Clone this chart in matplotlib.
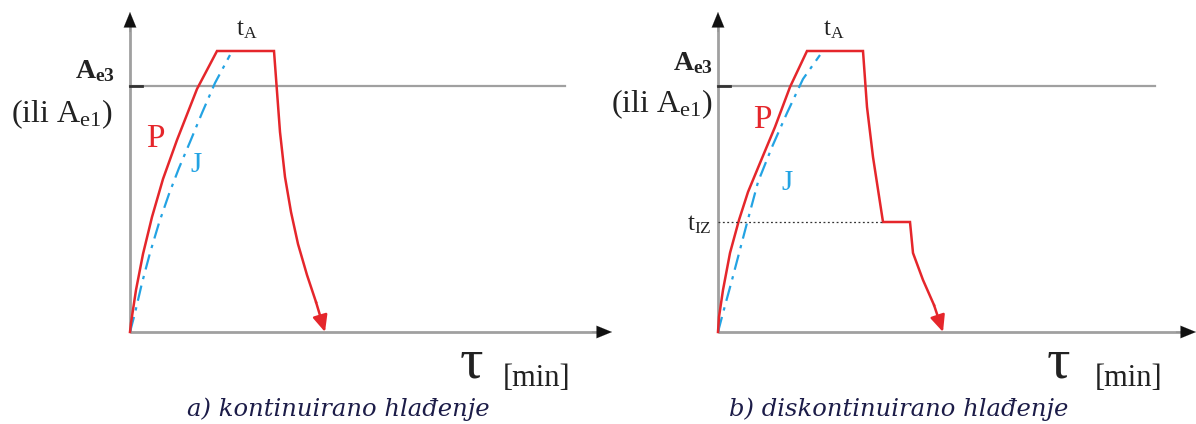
import numpy as np
import matplotlib.pyplot as plt

plt.rcParams['font.family'] = ['Liberation Serif', 'DejaVu Serif']
plt.rcParams['mathtext.fontset'] = 'custom'
plt.rcParams['mathtext.rm'] = 'Liberation Serif'
plt.rcParams['mathtext.bf'] = 'Liberation Serif:bold'
plt.rcParams['mathtext.it'] = 'Liberation Serif:italic'

# ---- DATA (schematic units: x = time, y = temperature, origin at axis corner) ----
# panel a) continuous cooling
pa_heat_x = [0, 1, 6, 13, 22, 33, 47, 67, 87]
pa_heat_y = [0, 9, 42, 78, 115, 153, 192, 243, 281]
pa_hold_x = [87, 144]
pa_hold_y = [281, 281]
pa_cool_x = [144, 150, 155, 161, 168, 177, 186, 195]
pa_cool_y = [281, 200, 155, 120, 88, 57, 30, 0]
ja_x = [0, 5, 12, 20, 29, 39, 49, 60, 72, 85, 100]
ja_y = [0, 19, 49, 79, 109, 138, 164, 190, 219, 249, 277]

# panel b) discontinuous cooling
pb_heat_x = [0, 1, 5, 12, 21, 30, 42, 57, 72, 89]
pb_heat_y = [0, 15, 42, 79, 112, 140, 169, 205, 245, 281]
pb_hold_x = [89, 145]
pb_hold_y = [281, 281]
pb_cool_x = [145, 149, 155, 165, 192, 195, 205, 216, 225]
pb_cool_y = [281, 225, 175, 110, 110, 79, 52, 27, 0]
jb_x = [0, 5, 14, 29, 40, 54, 69, 85, 102]
jb_y = [0, 19, 52, 109, 150, 185, 219, 253, 277]

ac_level = 246      # A_c3 line
tiz_level = 110     # t_IZ dotted line

RED = '#e5262b'
BLUE = '#23a3e3'
GREY = '#a0a0a0'
TXT = '#222222'
CAP = '#1c1c48'

fig = plt.figure(figsize=(11.96, 4.24), dpi=100)
ax_a = fig.add_axes([0, 0, 0.5, 1])
ax_b = fig.add_axes([0.5, 0, 0.5, 1])
ax_a.set_xlim(-130, 468)
ax_b.set_xlim(-120, 478)
for ax in (ax_a, ax_b):
    ax.set_ylim(-92, 332)
    ax.axis('off')


def draw_frame(ax, x_end, line_end):
    ax.plot([0, 0], [0, 306], color=GREY, lw=2, solid_capstyle='butt')
    ax.plot([0, x_end - 12], [0, 0], color=GREY, lw=2, solid_capstyle='butt')
    ax.annotate('', xy=(0, 320), xytext=(0, 300),
                arrowprops=dict(arrowstyle='-|>,head_length=1.1,head_width=0.45',
                                color='#111111', lw=0.1, shrinkA=0, shrinkB=0))
    ax.annotate('', xy=(x_end, 0), xytext=(x_end - 20, 0),
                arrowprops=dict(arrowstyle='-|>,head_length=1.1,head_width=0.45',
                                color='#111111', lw=0.1, shrinkA=0, shrinkB=0),
                annotation_clip=False)
    ax.plot([0, line_end], [ac_level, ac_level], color=GREY, lw=1.6)
    ax.plot([0, 12], [ac_level, ac_level], color='#333333', lw=2)


def draw_curves(ax, hx, hy, kx, ky, cx, cy, jx, jy):
    ax.plot(jx, jy, color=BLUE, lw=1.6, dashes=(7, 3, 1.5, 3))
    ax.plot(hx + kx + cx[:-1], hy + ky + cy[:-1], color=RED, lw=1.8,
            solid_joinstyle='miter')
    ax.annotate('', xy=(cx[-1], cy[-1]), xytext=(cx[-2], cy[-2]),
                arrowprops=dict(arrowstyle='-|>,head_length=1.0,head_width=0.45',
                                color=RED, lw=1.8, shrinkA=0, shrinkB=0))


def labels(ax, ae3_xy, ili_xy, p_xy, j_xy, ta_xy, min_x, tau_x, cap_xy, cap):
    ax.text(*ae3_xy, r'$\mathbf{A}_{\mathbf{e3}}$', fontsize=20, ha='right', va='baseline', color=TXT)
    ax.text(*ili_xy, r'$\mathrm{(ili\ A}_{\mathrm{e1}}\mathrm{)}$', fontsize=23, ha='right', va='baseline', color=TXT)
    ax.text(*p_xy, 'P', fontsize=24, ha='center', va='baseline', color=RED)
    ax.text(*j_xy, 'J', fontsize=21, ha='center', va='baseline', color=BLUE)
    ax.text(*ta_xy, r'$\mathrm{t}_{\mathrm{A}}$', fontsize=18, ha='center', va='baseline', color=TXT)
    ax.text(min_x, -54, '[min]', fontsize=22, ha='right', va='baseline', color=TXT)
    ax.text(tau_x, -46, 'τ', fontsize=42, ha='right', va='baseline', color=TXT)
    ax.text(*cap_xy, cap, fontsize=17.5, style='italic', family='DejaVu Serif',
            ha='center', va='baseline', color=CAP)


# ---- panel a ----
draw_frame(ax_a, 482, 435)
draw_curves(ax_a, pa_heat_x, pa_heat_y, pa_hold_x, pa_hold_y,
            pa_cool_x, pa_cool_y, ja_x, ja_y)
labels(ax_a, (-15, 254), (-17, 210), (25, 185), (66, 160), (117, 297),
       440, 353, (208, -84), 'a) kontinuirano hlađenje')

# ---- panel b ----
draw_frame(ax_b, 478, 437)
draw_curves(ax_b, pb_heat_x, pb_heat_y, pb_hold_x, pb_hold_y,
            pb_cool_x, pb_cool_y, jb_x, jb_y)
ax_b.plot([0, pb_cool_x[3]], [tiz_level, tiz_level], color='#333333', lw=0.9, ls=(0, (1.5, 2)))
ax_b.text(-6, 102, r'$\mathrm{t}_{\mathrm{IZ}}$', fontsize=18, ha='right', va='baseline', color=TXT)
labels(ax_b, (-5, 262), (-5, 220), (44, 204), (69, 142), (116, 297),
       444, 352, (181, -84), 'b) diskontinuirano hlađenje')

fig.savefig('out.png', dpi=100, facecolor='white')
